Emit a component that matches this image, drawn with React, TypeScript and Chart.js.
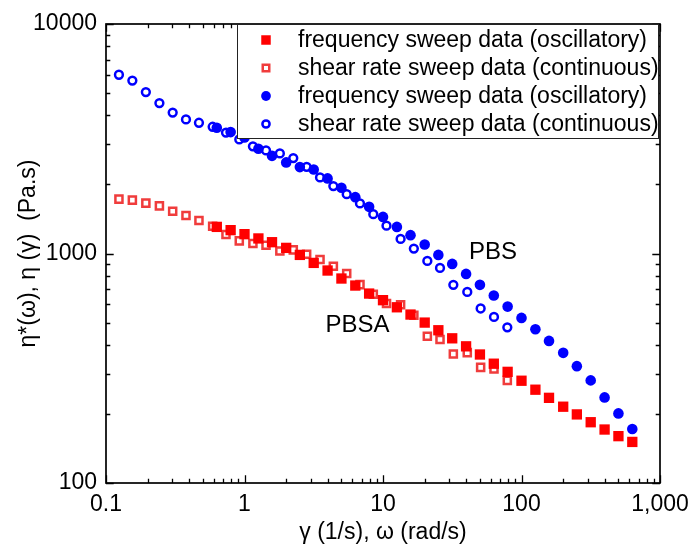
import React, { useEffect, useRef } from 'react';
import { Chart, registerables } from 'chart.js';

Chart.register(...registerables);

// Oscillatory frequency (rad/s) and shear rate (1/s)
const omega = [0.631, 0.794, 1, 1.26, 1.58, 2, 2.51, 3.16, 3.98, 5.01, 6.31, 7.94, 10, 12.6, 15.8, 20, 25.1, 31.6, 39.8, 50.1, 63.1, 79.4, 100, 126, 158, 200, 251, 316, 398, 501, 631];
const shearRate = [0.124, 0.155, 0.194, 0.243, 0.303, 0.378, 0.469, 0.589, 0.735, 0.917, 1.15, 1.43, 1.8, 2.25, 2.81, 3.51, 4.38, 5.47, 6.82, 8.51, 10.6, 13.4, 16.7, 20.9, 25.8, 32.2, 40.6, 50.7, 63.3, 79.0];

// PBSA
const etaStarPBSA = [1306, 1264, 1214, 1163, 1120, 1058, 986, 910, 843, 778, 725, 669, 626, 583, 542, 500, 463, 427, 394, 363, 331, 305, 279, 255, 235, 215, 199, 184, 171, 160, 151];
const etaPBSA = [1725, 1708, 1658, 1613, 1529, 1465, 1393, 1315, 1210, 1135, 1105, 1087, 1026, 1037, 993, 941, 880, 818, 732, 665, 605, 598, 538, 436, 422, 365, 370, 319, 314, 280];

// PBS
const etaStarPBS = [3530, 3381, 3205, 2859, 2664, 2494, 2379, 2324, 2124, 1933, 1760, 1597, 1444, 1306, 1202, 1094, 986, 901, 815, 730, 656, 587, 524, 468, 416, 369, 323, 280, 236, 201, 172];
const etaPBS = [6009, 5671, 5051, 4524, 4111, 3840, 3712, 3566, 3364, 3142, 2932, 2813, 2730, 2604, 2386, 2145, 1966, 1814, 1652, 1484, 1322, 1158, 1051, 928, 865, 730, 680, 576, 529, 477];

const seriesLabels = [
  'frequency sweep data (oscillatory)',
  'shear rate sweep data (continuous)',
  'frequency sweep data (oscillatory)',
  'shear rate sweep data (continuous)',
];

const xTickValues = [0.1, 1, 10, 100, 1000];
const xTickLabels = ['0.1', '1', '10', '100', '1,000'];
const yTickValues = [100, 1000, 10000];
const yTickLabels = ['100', '1000', '10000'];

const annotLabels = ['PBS', 'PBSA'];
const annotX = [62.3, 6.55];
const annotY = [1013, 487];

const xTitle = 'γ (1/s), ω (rad/s)';
const yTitle = 'η*(ω), η (γ)  (Pa.s)';

const FONT = "'Liberation Sans', Arial, sans-serif";

const RED = '#ff0000';
const RED_OPEN = '#f03c3c';
const BLUE = '#0000ff';

const framePlugin = {
  id: 'frameTicks',
  afterDatasetsDraw(chart: any) {
    const { ctx, chartArea: a, scales } = chart;
    const xs = scales.x;
    const ys = scales.y;
    ctx.save();
    ctx.strokeStyle = '#000';
    ctx.lineWidth = 1.3;
    const major = 7.7;
    const minor = 4.3;
    const drawX = (v: number, len: number) => {
      const px = Math.round(xs.getPixelForValue(v)) + 0.5;
      ctx.beginPath();
      ctx.moveTo(px, a.bottom);
      ctx.lineTo(px, a.bottom - len);
      ctx.moveTo(px, a.top);
      ctx.lineTo(px, a.top + len);
      ctx.stroke();
    };
    const drawY = (v: number, len: number) => {
      const py = Math.round(ys.getPixelForValue(v)) + 0.5;
      ctx.beginPath();
      ctx.moveTo(a.left, py);
      ctx.lineTo(a.left + len, py);
      ctx.moveTo(a.right, py);
      ctx.lineTo(a.right - len, py);
      ctx.stroke();
    };
    for (let d = -1; d <= 3; d++) {
      const base = Math.pow(10, d);
      drawX(base, major);
      if (d < 3) for (let m = 2; m <= 9; m++) drawX(m * base, minor);
    }
    for (let d = 2; d <= 4; d++) {
      const base = Math.pow(10, d);
      drawY(base, major);
      if (d < 4) for (let m = 2; m <= 9; m++) drawY(m * base, minor);
    }
    ctx.lineWidth = 1.7;
    ctx.strokeRect(a.left, a.top, a.right - a.left, a.bottom - a.top);

    ctx.fillStyle = '#000';
    ctx.font = `24px ${FONT}`;
    ctx.textAlign = 'center';
    ctx.textBaseline = 'middle';
    annotLabels.forEach((t, i) => {
      ctx.fillText(t, xs.getPixelForValue(annotX[i]), ys.getPixelForValue(annotY[i]));
    });
    ctx.restore();
  },
  afterDraw(chart: any) {
    const { ctx, chartArea: a } = chart;
    const w = 421;
    const h = 114;
    const left = a.right - 2 - w;
    const top = a.top;
    ctx.save();
    ctx.fillStyle = '#fff';
    ctx.fillRect(left, top, w, h);
    ctx.strokeStyle = '#222';
    ctx.lineWidth = 1;
    ctx.strokeRect(left + 0.5, top + 0.5, w, h);
    ctx.font = `23px ${FONT}`;
    ctx.textAlign = 'left';
    ctx.textBaseline = 'middle';
    chart.data.datasets.forEach((ds: any, i: number) => {
      const y = top + 16 + i * 28;
      const x = left + 29;
      ctx.save();
      ctx.fillStyle = ds.pointBackgroundColor;
      ctx.strokeStyle = ds.pointBorderColor;
      ctx.lineWidth = ds.pointBorderWidth;
      const r = ds.pointRadius * 0.92;
      ctx.beginPath();
      if (ds.pointStyle === 'rect') {
        const s = r * Math.SQRT1_2;
        ctx.rect(x - s, y - s, 2 * s, 2 * s);
      } else {
        ctx.arc(x, y, r, 0, Math.PI * 2);
      }
      ctx.fill();
      if (ds.pointBorderWidth > 0) ctx.stroke();
      ctx.restore();
      ctx.fillStyle = '#000';
      ctx.fillText(ds.label, left + 61, y + 1);
    });
    ctx.restore();
  },
};

export default function App() {
  const ref = useRef<HTMLCanvasElement | null>(null);
  useEffect(() => {
    if (!ref.current) return;
    const mk = (xs: number[], ys: number[]) => xs.map((x, i) => ({ x, y: ys[i] }));
    const chart = new Chart(ref.current, {
      type: 'scatter',
      data: {
        datasets: [
          {
            label: seriesLabels[0],
            data: mk(omega, etaStarPBSA),
            pointStyle: 'rect',
            pointRadius: 7.3,
            pointBackgroundColor: RED,
            pointBorderColor: RED,
            pointBorderWidth: 0,
          },
          {
            label: seriesLabels[1],
            data: mk(shearRate, etaPBSA),
            pointStyle: 'rect',
            pointRadius: 5,
            pointBackgroundColor: '#ffffff',
            pointBorderColor: RED_OPEN,
            pointBorderWidth: 2.5,
          },
          {
            label: seriesLabels[2],
            data: mk(omega, etaStarPBS),
            pointStyle: 'circle',
            pointRadius: 5.3,
            pointBackgroundColor: BLUE,
            pointBorderColor: BLUE,
            pointBorderWidth: 0,
          },
          {
            label: seriesLabels[3],
            data: mk(shearRate, etaPBS),
            pointStyle: 'circle',
            pointRadius: 3.9,
            pointBackgroundColor: '#ffffff',
            pointBorderColor: BLUE,
            pointBorderWidth: 2.5,
          },
        ] as any,
      },
      options: {
        animation: false,
        responsive: false,
        events: [],
        layout: { padding: { top: 24, right: 32, left: 0, bottom: 0 } },
        plugins: { legend: { display: false }, tooltip: { enabled: false } },
        scales: {
          x: {
            type: 'logarithmic',
            min: 0.1,
            max: 1000,
            afterBuildTicks: (s: any) => {
              s.ticks = xTickValues.map((v) => ({ value: v }));
            },
            afterFit: (s: any) => {
              s.height = 63;
              s.paddingLeft = 0;
              s.paddingRight = 0;
            },
            ticks: {
              callback: (_v: any, i: number) => xTickLabels[i],
              autoSkip: false,
              maxRotation: 0,
              color: '#000',
              padding: 8,
              font: { family: FONT, size: 23 },
            },
            grid: { display: false, drawTicks: false },
            border: { display: false },
            title: {
              display: true,
              text: xTitle,
              color: '#000',
              font: { family: FONT, size: 23 },
              padding: { top: 0, bottom: 0 },
            },
          },
          y: {
            type: 'logarithmic',
            min: 100,
            max: 10000,
            afterBuildTicks: (s: any) => {
              s.ticks = yTickValues.map((v) => ({ value: v }));
            },
            afterFit: (s: any) => {
              s.width = 106;
              s.paddingTop = 0;
              s.paddingBottom = 0;
            },
            ticks: {
              callback: (_v: any, i: number) => yTickLabels[i],
              autoSkip: false,
              color: '#000',
              padding: 9,
              font: { family: FONT, size: 23 },
            },
            grid: { display: false, drawTicks: false },
            border: { display: false },
            title: {
              display: true,
              text: yTitle,
              color: '#000',
              font: { family: FONT, size: 23 },
              padding: { top: 15, bottom: 0 },
            },
          },
        },
      },
      plugins: [framePlugin],
    });
    return () => chart.destroy();
  }, []);
  return (
    <div style={{ position: 'absolute', left: 0, top: 0, width: 692, height: 546, background: '#fff' }}>
      <canvas ref={ref} width={692} height={546} style={{ width: 692, height: 546, display: 'block' }} />
    </div>
  );
}
